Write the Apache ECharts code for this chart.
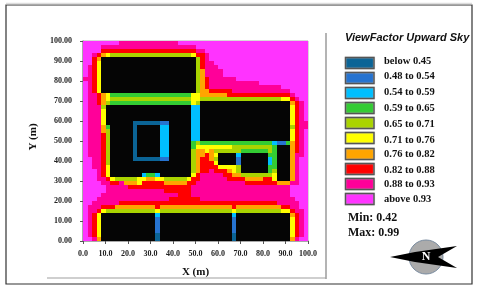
<!DOCTYPE html>
<html><head><meta charset="utf-8">
<style>html,body{margin:0;padding:0;background:#fff}#c{width:480px;height:289px}</style>
<script src="https://cdn.jsdelivr.net/npm/echarts@6/dist/echarts.min.js"></script>
</head><body><div id="c"></div>
<script>
// Level bands (index 0 = building footprint, no band)
var bandNames = ['below 0.45','0.48 to 0.54','0.54 to 0.59','0.59 to 0.65','0.65 to 0.71','0.71 to 0.76','0.76 to 0.82','0.82 to 0.88','0.88 to 0.93','above 0.93'];
var bandColors = ['#0b6496','#2673d0','#00bfff','#33cc33','#aad400','#ffff00','#ffa500','#ff0000','#ff0099','#ff33ff'];
var buildingColor = '#050505';
var minValue = '0.42', maxValue = '0.99';
// Sensor grid, 2 m cells, row 0 at the top. Each token: band char + run length.
var gridRows = [
"a8 913 a29",
"a4 921 a25",
"a4 821 92 a23",
"a2 91 81 71 61 518 61 82 91 a22",
"a2 81 71 021 51 81 91 a22",
"a2 81 61 021 51 81 92 a21",
"a1 91 81 61 021 51 81 93 a20",
"a1 91 81 61 021 51 71 94 a19",
"a1 91 81 61 021 51 71 94 a19",
"91 91 81 61 021 51 71 81 96 a16",
"a1 91 81 61 021 51 71 81 911 a11",
"a1 91 81 61 021 51 71 81 916 a6",
"a1 91 81 61 021 51 72 85 913 a4",
"a1 92 81 71 61 418 62 76 814 91 a3",
"a1 92 81 71 61 518 62 518 62 81 91 a2",
"a1 92 81 71 51 418 61 51 020 71 81 91 a1",
"a1 93 51 019 32 020 61 81 91 a1",
"a1 93 61 019 32 020 61 81 91 a1",
"a1 93 61 019 32 020 61 81 91 a1",
"a1 93 61 019 32 020 61 81 91 a1",
"a1 93 61 06 16 22 05 32 020 61 81 92",
"a1 93 71 41 05 11 05 32 05 32 020 51 81 92",
"a1 93 71 51 05 11 05 32 05 32 020 61 81 91 a1",
"a1 93 81 51 05 11 05 32 05 32 020 61 81 91 a1",
"a1 93 81 51 05 11 05 32 05 32 020 61 81 91 a1",
"a1 93 81 51 05 11 05 32 05 41 51 416 31 22 41 71 81 91 a1",
"a1 93 81 51 05 11 05 32 05 41 68 59 41 03 71 81 91 a1",
"a1 93 81 51 05 11 05 32 05 51 72 61 71 56 46 51 41 03 71 81 91 a1",
"a1 93 81 51 05 11 05 32 05 51 72 81 71 61 04 31 06 42 03 71 92 a1",
"a2 92 81 51 05 16 22 05 51 71 82 71 51 04 21 06 31 41 03 71 91 a2",
"a2 92 81 51 018 51 71 83 61 04 21 06 31 41 03 71 91 a2",
"a2 92 81 61 018 51 71 84 64 51 06 42 03 71 91 a2",
"a3 91 81 61 018 51 71 82 91 83 71 61 51 06 41 51 03 71 91 a2",
"a3 91 81 61 07 31 42 31 07 61 81 95 82 72 57 61 03 71 91 a2",
"a3 92 81 61 55 62 72 62 55 61 82 96 84 74 82 61 03 71 91 a2",
"a4 92 82 91 73 61 85 75 82 911 87 73 92 a2",
"a5 95 814 922 a4",
"a5 913 86 922 a4",
"a4 917 83 922 a4",
"a3 916 87 921 a3",
"a2 96 835 95 a2",
"a1 93 83 79 81 716 81 710 82 92 a2",
"a1 92 81 61 511 61 516 61 510 62 81 92 a1",
"a1 91 81 61 012 31 016 31 012 71 81 91 a1",
"a1 91 81 61 012 21 016 21 012 61 81 91 a1",
"a1 91 81 61 012 21 016 21 012 61 81 91 a1",
"a1 91 81 61 012 21 016 21 012 61 81 91 a1",
"a1 91 81 61 012 21 016 21 012 61 81 91 a1",
"a1 91 81 61 012 11 016 11 012 61 81 91 a1",
"a2 91 71 012 11 016 11 012 71 91 a2"
];

var SERIF = '"Liberation Serif","Times New Roman",serif';
var cells = [];
gridRows.forEach(function (row, r) {
  var c = 0;
  row.split(' ').forEach(function (tok) {
    var lv = parseInt(tok.charAt(0), 16), n = +tok.slice(1);
    for (var i = 0; i < n; i++, c++) cells.push([c * 2, 98 - r * 2, lv]);
  });
});
function colorOf(lv) { return lv === 0 ? buildingColor : bandColors[lv - 1]; }

var g = [];
// frame lines
g.push({type:'rect',shape:{x:6,y:5,width:466,height:279},style:{fill:'none',stroke:'#333',lineWidth:1.2}});
g.push({type:'line',shape:{x1:6,y1:3.5,x2:472,y2:3.5},style:{stroke:'#ddd',lineWidth:1.5}});
g.push({type:'line',shape:{x1:326,y1:33,x2:326,y2:279},style:{stroke:'#b4b4b4',lineWidth:2}});
g.push({type:'line',shape:{x1:47,y1:278,x2:326,y2:278},style:{stroke:'#a0a0a0',lineWidth:1.2}});
g.push({type:'text',x:345,y:38,style:{text:'ViewFactor Upward Sky',fontStyle:'italic',fontWeight:'bold',fontSize:11,fontFamily:'"Liberation Sans",Arial,sans-serif',fill:'#111',verticalAlign:'middle'}});
var swatchY = [63,78,93,108,123,138,154,169,184,199];
var labelY = [61,76,92.5,108,124,140,154,170,184.5,199];
bandNames.forEach(function (name, i) {
  g.push({type:'rect',shape:{x:345.5,y:swatchY[i]-5.5,width:28.5,height:11},style:{fill:bandColors[i],stroke:'#555',lineWidth:1.4,shadowBlur:1,shadowColor:'#bbb'}});
  g.push({type:'text',x:384,y:labelY[i],style:{text:name,fontWeight:'bold',fontSize:10.5,fontFamily:SERIF,fill:'#111',verticalAlign:'middle'}});
});
g.push({type:'text',x:348,y:218,style:{text:'Min: '+minValue,fontWeight:'bold',fontSize:12,fontFamily:SERIF,fill:'#111',verticalAlign:'middle'}});
g.push({type:'text',x:348,y:233,style:{text:'Max: '+maxValue,fontWeight:'bold',fontSize:12,fontFamily:SERIF,fill:'#111',verticalAlign:'middle'}});
// north arrow
g.push({type:'circle',shape:{cx:426,cy:257,r:17},style:{fill:'#ababab',stroke:'#7a8ca0',lineWidth:1}});
g.push({type:'polygon',shape:{points:[[390,257],[415,252],[457,246],[438,257],[457,268],[415,262]]},style:{fill:'#000'}});
g.push({type:'text',x:426,y:257,style:{text:'N',fontWeight:'bold',fontSize:12,fontFamily:SERIF,fill:'#fff',align:'center',verticalAlign:'middle'}});

var axisCommon = {
  type:'value', min:0, max:100, interval:10,
  splitLine:{show:false},
  axisLine:{show:true,onZero:false,lineStyle:{color:'#9a9a9a',width:1.5}},
  axisTick:{show:true,length:3,lineStyle:{color:'#555',width:1}}
};
var chart = echarts.init(document.getElementById('c'), null, {renderer:'canvas'});
chart.setOption({
  animation:false,
  backgroundColor:'#fff',
  grid:{left:83,top:41,width:225,height:200,show:true,borderColor:'#b0b0b0',borderWidth:1,backgroundColor:'#fff'},
  xAxis:Object.assign({}, axisCommon, {
    name:'X (m)', nameLocation:'middle', nameGap:26,
    nameTextStyle:{fontFamily:SERIF,fontWeight:'bold',fontSize:11,color:'#111'},
    axisLabel:{margin:9,fontFamily:SERIF,fontWeight:'bold',fontSize:8,color:'#222',showMinLabel:true,showMaxLabel:true,formatter:function(v){return v.toFixed(1);}}
  }),
  yAxis:Object.assign({}, axisCommon, {
    name:'Y (m)', nameLocation:'middle', nameGap:44, nameRotate:90,
    nameTextStyle:{fontFamily:SERIF,fontWeight:'bold',fontSize:11,color:'#111',padding:[0,0,0,8]},
    axisLabel:{margin:11,fontFamily:SERIF,fontWeight:'bold',fontSize:8,color:'#222',showMinLabel:true,showMaxLabel:true,formatter:function(v){return v.toFixed(2);}}
  }),
  series:[{
    type:'custom', coordinateSystem:'cartesian2d', clip:true, silent:true,
    encode:{x:0,y:1},
    data:cells,
    renderItem:function(params, api){
      var p0 = api.coord([api.value(0), api.value(1)+2]);
      var p1 = api.coord([api.value(0)+2, api.value(1)]);
      var x0 = Math.round(p0[0]), y0 = Math.round(p0[1]), x1 = Math.round(p1[0]), y1 = Math.round(p1[1]);
      return {type:'rect',shape:{x:x0,y:y0,width:x1-x0,height:y1-y0},style:{fill:colorOf(api.value(2))}};
    }
  }],
  graphic:{elements:g}
});
</script></body></html>
